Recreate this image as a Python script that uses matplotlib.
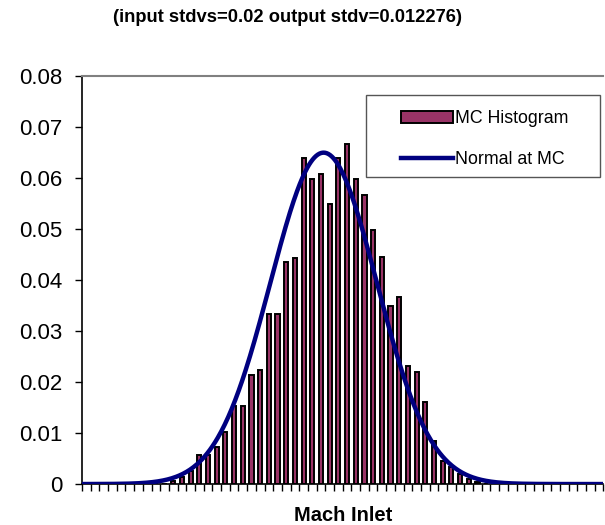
import numpy as np
import matplotlib
matplotlib.use("Agg")
import matplotlib.pyplot as plt
from matplotlib.patches import Rectangle

plt.rcParams['font.family'] = ['Liberation Sans', 'DejaVu Sans']

# MC histogram, relative frequency per bin (60 bins, bin width 0.002)
freq = [0, 0, 0, 0, 0, 0, 0, 0, 0, 0,
        0.0006, 0.0013, 0.0025, 0.0057, 0.0056, 0.0073, 0.0103, 0.0153, 0.0153, 0.0214,
        0.0224, 0.0333, 0.0333, 0.0436, 0.0444, 0.0640, 0.0599, 0.0609, 0.0549, 0.0640,
        0.0666, 0.0599, 0.0567, 0.0499, 0.0446, 0.0350, 0.0367, 0.0231, 0.0220, 0.0160,
        0.0084, 0.0046, 0.0034, 0.0020, 0.0010, 0.0004, 0, 0, 0, 0,
        0, 0, 0, 0, 0, 0, 0, 0, 0, 0]
bin_width = 0.002
out_stdv = 0.012276
mean_bin = 27.3          # position of the MC mean, in bin units

title = "(input stdvs=0.02 output stdv=0.012276)"

n = len(freq)
idx = np.arange(n)

# normal curve with the MC mean / stdv, scaled to bin frequencies
sd_bins = out_stdv / bin_width
xs = np.linspace(-0.5, n - 0.5, 600)
ys = np.exp(-0.5 * ((xs - mean_bin) / sd_bins) ** 2) / (sd_bins * np.sqrt(2 * np.pi))

fig = plt.figure(figsize=(6.05, 5.25), dpi=100)
ax = fig.add_axes([0.1355, 0.078, 0.862, 0.777])

bars = ax.bar(idx, freq, width=0.48, color='#993366', edgecolor='black', linewidth=1.4,
              label='MC Histogram', zorder=2)
line, = ax.plot(xs, ys, color='#000080', linewidth=3.2, label='Normal at MC', zorder=3)

ax.set_xlim(-0.5, n - 0.5)
ax.set_ylim(0, 0.08)
ax.set_yticks(np.arange(0, 0.081, 0.01))
ax.set_yticklabels(['0'] + ['%.2f' % v for v in np.arange(0.01, 0.081, 0.01)])
ax.set_xticks(np.arange(-0.5, n, 1.0))
ax.set_xticklabels([])
ax.tick_params(axis='x', direction='out', length=5, width=1)
ax.tick_params(axis='y', direction='out', length=5, width=1, labelsize=16, pad=9)

for s in ['left', 'bottom']:
    ax.spines[s].set_color('black')
    ax.spines[s].set_linewidth(1.2)
ax.spines['top'].set_color('#808080')
ax.spines['top'].set_linewidth(1.5)
ax.spines['right'].set_visible(False)

ax.set_xlabel('Mach Inlet', fontsize=14.5, fontweight='bold', labelpad=7)
fig.text(0.476, 0.967, title, ha='center', va='center', fontsize=13.2, fontweight='bold')

# legend box drawn separately (Excel style: wide padding)
ax.add_patch(Rectangle((0.5446, 0.7525), 0.4487, 0.2009, transform=ax.transAxes,
                       facecolor='white', edgecolor='#555555', linewidth=1.0, zorder=4))
leg = ax.legend([bars, line], ['MC Histogram', 'Normal at MC'],
                loc='upper left', bbox_to_anchor=(0.6117, 0.916), fontsize=12.8,
                frameon=False, handlelength=2.9, handletextpad=0.15,
                labelspacing=1.35, borderpad=0, borderaxespad=0)
leg.set_zorder(5)

plt.savefig('out.png', dpi=100)
